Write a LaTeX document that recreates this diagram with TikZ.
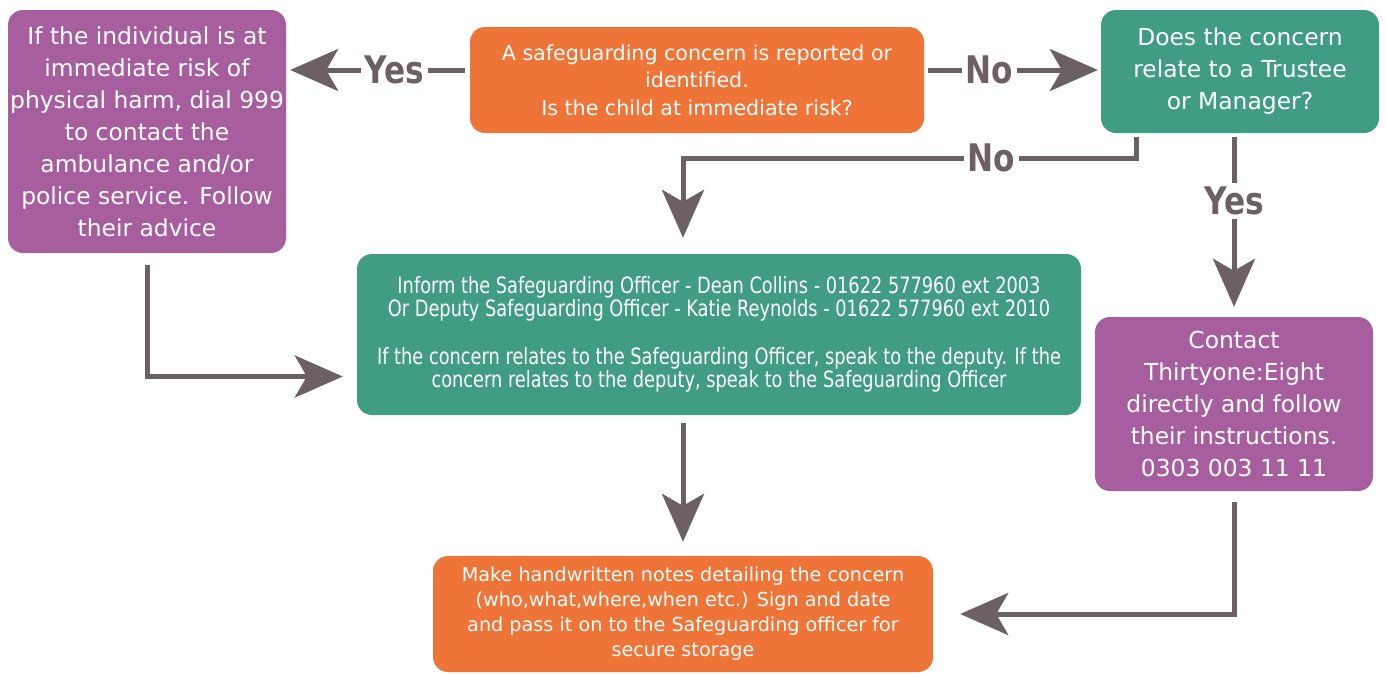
\documentclass[tikz,border=0pt]{standalone}
\usepackage{fontspec}
\setmainfont{DejaVu Sans}
\newfontfamily\narrowfont{DejaVu Sans}[FakeStretch=0.79]
\newfontfamily\lblfont{DejaVu Sans}[FakeStretch=0.82]
\usepackage{tikz}
\usetikzlibrary{arrows.meta,calc}
\definecolor{careorange}{HTML}{EE7437}
\definecolor{carepurple}{HTML}{A75E9E}
\definecolor{caregreen}{HTML}{419C84}
\definecolor{arrowgray}{HTML}{6D6064}
\tikzset{
	box/.style={rounded corners=15pt, text=white, align=center, inner sep=0pt},
	bigtext/.style={font=\fontsize{23.4}{32}\selectfont},
	smalltext/.style={font=\fontsize{20.6}{27.5}\selectfont},
	flow/.style={line width=5pt, draw=arrowgray, -{Stealth[length=48pt,width=42pt,inset=12pt]}},
	lbl/.style={fill=white, text=arrowgray, inner sep=4pt, font=\lblfont\bfseries\fontsize{38}{38}\selectfont}
}

\begin{document}
\begin{tikzpicture}[x=1pt,y=-1pt]
			%%%%% START %%%%%
			\useasboundingbox[fill=white] (0,0) rectangle (1386,673);
			
			\node[box, bigtext, fill=carepurple, minimum width=278pt, minimum height=243pt] (riskbox) at (147,131.5)
				{If the individual is at\\immediate risk of\\physical harm, dial 999\\to contact the\\ambulance and/or\\police service. Follow\\their advice};
			\node[box, smalltext, fill=careorange, minimum width=454pt, minimum height=106pt] (reportbox) at (697,80)
				{A safeguarding concern is reported or\\identified.\\Is the child at immediate risk?};
			\node[box, bigtext, fill=caregreen, minimum width=278pt, minimum height=123pt] (trusteebox) at (1240,71.5)
				{Does the concern\\relate to a Trustee\\or Manager?};
			
			\node[box, fill=caregreen, minimum width=724pt, minimum height=161pt, font=\narrowfont\fontsize{22.5}{23.5}\selectfont] (informbox) at (719,334.5)
				{Inform the Safeguarding Officer - Dean Collins - 01622 577960 ext 2003\\
				Or Deputy Safeguarding Officer - Katie Reynolds - 01622 577960 ext 2010\\[24pt]
				If the concern relates to the Safeguarding Officer, speak to the deputy. If the\\
				concern relates to the deputy, speak to the Safeguarding Officer};
			\node[box, bigtext, fill=carepurple, minimum width=278pt, minimum height=174pt] (thirtyonebox) at (1234,404)
				{Contact\\Thirtyone:Eight\\directly and follow\\their instructions.\\0303 003 11 11};
			
			\node[box, font=\fontsize{19.2}{25}\selectfont, fill=careorange, minimum width=500pt, minimum height=116pt] (notesbox) at (683,614)
				{Make handwritten notes detailing the concern\\(who,what,where,when etc.) Sign and date\\and pass it on to the Safeguarding officer for\\secure storage};
			
			% connectors
			\draw[flow, shorten <=5pt, shorten >=4pt] ([yshift=10pt]reportbox.west) -- node[lbl, pos=0.41]{Yes} ([yshift=10pt]reportbox.west -| riskbox.east);
			\draw[flow, shorten <=4pt, shorten >=3pt] ([yshift=10pt]reportbox.east) -- node[lbl, pos=0.37]{No} ([yshift=10pt]reportbox.east -| trusteebox.west);
			\draw[flow, shorten <=4pt, shorten >=16pt] ([xshift=36pt]trusteebox.south west) |- node[lbl, pos=0.66]{No}
				([yshift=-25pt]trusteebox.south -| notesbox.north) -- (informbox.north -| notesbox.north);
			\draw[flow, shorten <=4pt, shorten >=10pt] (trusteebox.south -| thirtyonebox.north) -- node[lbl, pos=0.37]{Yes} (thirtyonebox.north);
			
			\draw[flow, shorten <=12pt, shorten >=14pt] (riskbox.south) |- ([yshift=-42pt]informbox.west);
			\draw[flow, shorten <=8pt, shorten >=14pt] (informbox.south -| notesbox.north) -- (notesbox.north);
			\draw[flow, shorten <=11pt, shorten >=27pt] (thirtyonebox.south) |- (notesbox.east);
			%%%%% END %%%%%
\end{tikzpicture}
\end{document}
